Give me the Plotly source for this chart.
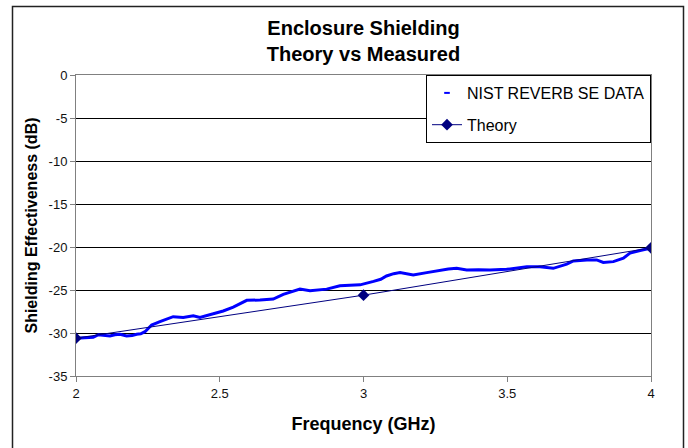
import plotly.graph_objects as go

# Measured data (NIST REVERB SE DATA)
meas_freq = [2.0, 2.03, 2.06, 2.078, 2.1, 2.118, 2.135, 2.153, 2.176, 2.195, 2.211, 2.225, 2.24,
             2.263, 2.292, 2.315, 2.338, 2.373, 2.408, 2.431, 2.466, 2.49, 2.512, 2.547, 2.57,
             2.594, 2.64, 2.686, 2.721, 2.75, 2.779, 2.814, 2.872, 2.918, 2.942, 2.988, 3.035,
             3.06, 3.08, 3.105, 3.127, 3.15, 3.173, 3.22, 3.266, 3.295, 3.324, 3.359, 3.4,
             3.44, 3.498, 3.53, 3.568, 3.614, 3.66, 3.707, 3.73, 3.777, 3.811, 3.834, 3.869,
             3.904, 3.927, 3.962, 3.997]
meas_se = [-30.6, -30.55, -30.5, -30.2, -30.3, -30.35, -30.2, -30.15, -30.35, -30.3, -30.15, -30.1, -29.85,
           -29.07, -28.68, -28.4, -28.1, -28.2, -28.0, -28.2, -27.9, -27.7, -27.44, -27.0, -26.6,
           -26.2, -26.16, -26.05, -25.5, -25.2, -24.9, -25.08, -24.9, -24.5, -24.45, -24.4, -24.0,
           -23.75, -23.37, -23.1, -22.98, -23.1, -23.26, -22.98, -22.67, -22.55, -22.48, -22.67, -22.65,
           -22.67, -22.6, -22.45, -22.29, -22.29, -22.48, -22.0, -21.63, -21.5, -21.5, -21.8, -21.7,
           -21.3, -20.7, -20.4, -20.15]

# Theory
theory_freq = [2, 3, 4]
theory_se = [-30.6, -25.6, -20.1]

x_ticks = [2, 2.5, 3, 3.5, 4]
y_ticks = [0, -5, -10, -15, -20, -25, -30, -35]

FONT = "Liberation Sans, Arial, sans-serif"

fig = go.Figure()
fig.add_trace(go.Scatter(
    x=meas_freq, y=meas_se, mode="lines",
    line=dict(color="#0000FF", width=3),
    showlegend=False, hoverinfo="x+y"))
fig.add_trace(go.Scatter(
    x=[None], y=[None], mode="markers", name="NIST REVERB SE DATA",
    marker=dict(symbol="line-ew", size=4, color="#0000FF",
                line=dict(color="#0000FF", width=2)),
    legendgroup="a"))
fig.add_trace(go.Scatter(
    x=theory_freq, y=theory_se, mode="lines+markers", name="Theory",
    line=dict(color="#000080", width=1),
    marker=dict(symbol="diamond", size=9, color="#000080"),
    legendgroup="b"))

fig.update_layout(
    width=688, height=448,
    margin=dict(l=76, r=37, t=75, b=72),
    paper_bgcolor="white", plot_bgcolor="white",
    font=dict(family=FONT, color="#111111"),
    title=dict(text="<b>Enclosure Shielding<br>Theory vs Measured</b>",
               x=(76 + 651) / 2 / 688, xanchor="center",
               y=1 - 35 / 448, yanchor="middle",
               font=dict(size=20, family=FONT, color="#000000")),
    legend=dict(x=1, y=1, xanchor="right", yanchor="top",
                bgcolor="white", bordercolor="#000000", borderwidth=1,
                font=dict(size=16, family=FONT, color="#000000"),
                traceorder="grouped", tracegroupgap=8,
                itemwidth=30),
    shapes=[dict(type="rect", xref="paper", yref="paper",
                 x0=(12.5 - 76) / 575, x1=(683.5 - 76) / 575,
                 y0=-0.5, y1=(376 - 6.5) / 301,
                 line=dict(color="#222222", width=1.5), layer="below")],
)

fig.update_xaxes(
    range=[2, 4], tickvals=x_ticks, ticktext=[str(v) for v in x_ticks],
    showgrid=False, zeroline=False,
    showline=True, mirror=True, linecolor="#808080", linewidth=1,
    ticks="outside", ticklen=5, tickcolor="#808080",
    tickfont=dict(size=13, family=FONT, color="#111111"),
    title=dict(text="<b>Frequency (GHz)</b>", font=dict(size=18, family=FONT, color="#000000"),
               standoff=17))
fig.update_yaxes(
    range=[-35, 0], tickvals=y_ticks, ticktext=[str(v) for v in y_ticks],
    showgrid=True, gridcolor="#000000", gridwidth=1, zeroline=False,
    showline=True, mirror=True, linecolor="#808080", linewidth=1,
    ticks="outside", ticklen=5, tickcolor="#808080",
    tickfont=dict(size=13, family=FONT, color="#111111"),
    title=dict(text="<b>Shielding Effectiveness (dB)</b>", font=dict(size=16, family=FONT, color="#000000"),
               standoff=7))

fig.write_html("out.html")
